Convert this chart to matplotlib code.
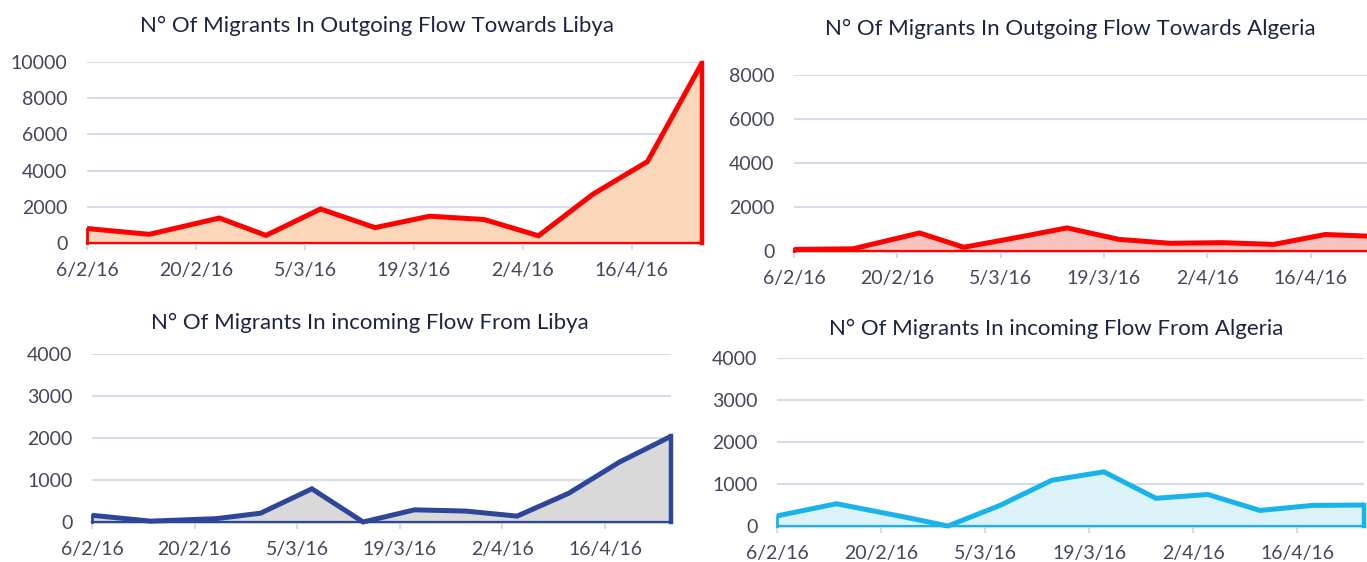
import matplotlib
matplotlib.use("Agg")
import matplotlib.pyplot as plt
import matplotlib.dates as mdates
from matplotlib.ticker import FuncFormatter
import datetime as dt

plt.rcParams['font.family'] = ['Lato', 'DejaVu Sans']

# ---- data ----
dates = ["2016-02-06", "2016-02-14", "2016-02-23", "2016-02-29", "2016-03-07", "2016-03-14",
         "2016-03-21", "2016-03-28", "2016-04-04", "2016-04-11", "2016-04-18", "2016-04-25"]
out_libya = [800, 480, 1380, 420, 1880, 850, 1480, 1300, 400, 2700, 4500, 9950]
out_algeria = [70, 100, 820, 170, 600, 1050, 530, 350, 380, 300, 750, 660]
in_libya = [160, 20, 80, 210, 790, 0, 290, 260, 140, 680, 1430, 2040]
in_algeria = [240, 530, 220, 0, 490, 1090, 1290, 660, 750, 370, 490, 500]
tick_dates = ["2016-02-06", "2016-02-20", "2016-03-05", "2016-03-19", "2016-04-02", "2016-04-16"]

titles = ["N° Of Migrants In Outgoing Flow Towards Libya",
          "N° Of Migrants In Outgoing Flow Towards Algeria",
          "N° Of Migrants In incoming Flow From Libya",
          "N° Of Migrants In incoming Flow From Algeria"]

x = [dt.datetime.strptime(d, "%Y-%m-%d") for d in dates]
xt = [dt.datetime.strptime(d, "%Y-%m-%d") for d in tick_dates]

W, H = 1367, 562
fig = plt.figure(figsize=(W / 100, H / 100), dpi=100)

def box(left, right, bottom, top):
    return [left / W, 1 - bottom / H, (right - left) / W, (bottom - top) / H]

panels = [
    dict(pos=box(87, 702, 243, 62), y=out_libya, ymax=10000, step=2000,
         line="#FF0000", fill="#FCD6B8", title=(377, 26)),
    dict(pos=box(794, 1377, 251, 75), y=out_algeria, ymax=8000, step=2000,
         line="#FF0000", fill="#F8C3BC", title=(1070, 29)),
    dict(pos=box(92, 671, 522, 354), y=in_libya, ymax=4000, step=1000,
         line="#2E4699", fill="#D9D9D9", title=(370, 323)),
    dict(pos=box(777, 1364, 526, 358), y=in_algeria, ymax=4000, step=1000,
         line="#17B3EA", fill="#DCF2F9", title=(1056, 329)),
]

tick_col = "#43465C"
grid_col = "#D8DBEC"

def fmt(v, pos=None):
    d = mdates.num2date(v)
    return f"{d.day}/{d.month}/{d.strftime('%y')}"

for p, t in zip(panels, titles):
    ax = fig.add_axes(p["pos"])
    y = p["y"]
    ax.set_xlim(x[0], x[-1])
    ax.set_ylim(0, p["ymax"])
    ax.set_yticks(range(0, p["ymax"] + 1, p["step"]))
    ax.set_xticks(xt)
    ax.xaxis.set_major_formatter(FuncFormatter(fmt))
    for s in ax.spines.values():
        s.set_visible(False)
    ax.grid(axis='y', color=grid_col, lw=1.5)
    ax.set_axisbelow(True)
    ax.tick_params(axis='y', length=0, pad=14, labelsize=14, labelcolor=tick_col)
    ax.tick_params(axis='x', length=5, width=1.5, color=grid_col, pad=9,
                   labelsize=14, labelcolor=tick_col)
    ax.axhline(0, color=grid_col, lw=2, zorder=1, clip_on=False)
    ax.fill_between(x, 0, y, color=p["fill"], lw=0, zorder=2)
    # area border
    ax.plot([x[0], x[-1]], [0, 0], color=p["line"], lw=1.6, zorder=3, clip_on=False)
    ax.plot([x[0], x[0]], [0, y[0]], color=p["line"], lw=2, zorder=3, clip_on=False)
    ax.plot([x[-1], x[-1]], [0, y[-1]], color=p["line"], lw=3.2, zorder=3, clip_on=False)
    ax.plot(x, y, color=p["line"], lw=3.6, zorder=4, clip_on=False,
            solid_joinstyle='miter', solid_capstyle='butt')
    fig.text(p["title"][0] / W, 1 - p["title"][1] / H, t, ha='center', va='center',
             fontsize=16, color="#1D2442")

fig.savefig("out.png", dpi=100)
